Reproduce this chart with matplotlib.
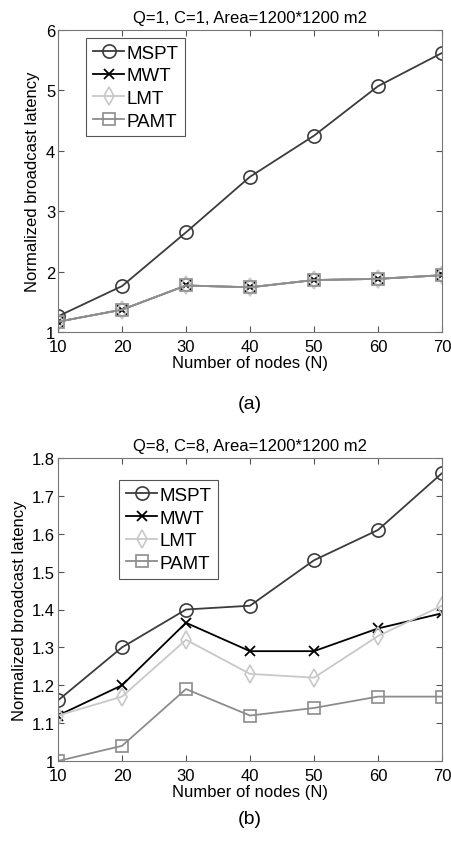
import matplotlib
matplotlib.use("Agg")
import matplotlib.pyplot as plt

plt.rcParams['font.family'] = ['Liberation Sans', 'DejaVu Sans']

nodes = [10, 20, 30, 40, 50, 60, 70]

# panel (a): Q=1, C=1
a_mspt = [1.26, 1.76, 2.65, 3.57, 4.25, 5.07, 5.62]
a_mwt  = [1.17, 1.37, 1.77, 1.74, 1.86, 1.88, 1.94]
a_lmt  = [1.17, 1.37, 1.77, 1.74, 1.86, 1.88, 1.94]
a_pamt = [1.17, 1.37, 1.77, 1.74, 1.86, 1.88, 1.94]

# panel (b): Q=8, C=8
b_mspt = [1.16, 1.30, 1.40, 1.41, 1.53, 1.61, 1.76]
b_mwt  = [1.12, 1.20, 1.365, 1.29, 1.29, 1.35, 1.39]
b_lmt  = [1.12, 1.17, 1.32, 1.23, 1.22, 1.33, 1.41]
b_pamt = [1.00, 1.04, 1.19, 1.12, 1.14, 1.17, 1.17]

names = ["MSPT", "MWT", "LMT", "PAMT"]

STYLES = [
    dict(color="#3c3c3c", marker="o", markersize=9.5, markerfacecolor="none", markeredgewidth=1.2),
    dict(color="#000000", marker="x", markersize=7, markeredgewidth=1.3),
    dict(color="#c8c8c8", marker="d", markersize=9, markerfacecolor="none", markeredgewidth=1.2),
    dict(color="#8c8c8c", marker="s", markersize=8, markerfacecolor="none", markeredgewidth=1.2),
]

W, H = 451, 845
fig = plt.figure(figsize=(W / 100, H / 100), dpi=100)


def panel(rect, series, title, ylim, yticks, ylabels, caption, cap_y, leg_anchor):
    l, t, r, b = rect
    ax = fig.add_axes([l / W, 1 - b / H, (r - l) / W, (b - t) / H])
    for i in range(4):
        ax.plot(nodes, series[i], linewidth=1.3, label=names[i], **STYLES[i])
    ax.set_xlim(10, 70)
    ax.set_ylim(*ylim)
    ax.set_xticks(nodes)
    ax.set_yticks(yticks)
    ax.set_yticklabels(ylabels)
    ax.tick_params(direction="in", top=True, right=True, labelsize=12, length=4,
                   color="#555555", pad=2)
    ax.tick_params(axis="x", pad=5)
    for s in ax.spines.values():
        s.set_color("#777777")
        s.set_linewidth(0.8)
    ax.set_title(title, fontsize=12, pad=6)
    ax.set_xlabel("Number of nodes (N)", fontsize=12, labelpad=1)
    ax.set_ylabel("Normalized broadcast latency", fontsize=12, labelpad=4)
    leg = ax.legend(loc="upper left", bbox_to_anchor=leg_anchor, fontsize=13.5,
                    fancybox=False, framealpha=1, edgecolor="#555555",
                    handlelength=1.7, handletextpad=0.1, borderpad=0.35,
                    labelspacing=0.3, borderaxespad=0)
    leg.get_frame().set_linewidth(0.8)
    fig.text(0.5 * (l + r) / W, 1 - cap_y / H, caption, ha="center", va="center", fontsize=14)
    return ax


panel((58, 31, 442, 333), [a_mspt, a_mwt, a_lmt, a_pamt],
      "Q=1, C=1, Area=1200*1200 m2", (1, 6), [1, 2, 3, 4, 5, 6],
      ["1", "2", "3", "4", "5", "6"], "(a)", 405, (0.073, 0.974))

panel((58, 459, 442, 762), [b_mspt, b_mwt, b_lmt, b_pamt],
      "Q=8, C=8, Area=1200*1200 m2", (1, 1.8),
      [1, 1.1, 1.2, 1.3, 1.4, 1.5, 1.6, 1.7, 1.8],
      ["1", "1.1", "1.2", "1.3", "1.4", "1.5", "1.6", "1.7", "1.8"], "(b)", 820,
      (0.159, 0.927))

fig.savefig("out.png", dpi=100)
